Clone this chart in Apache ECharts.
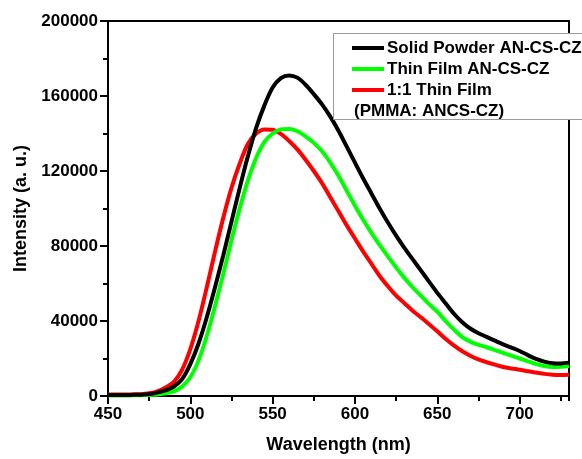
<!DOCTYPE html>
<html>
<head>
<meta charset="utf-8">
<script src="https://cdn.jsdelivr.net/npm/echarts@6/dist/echarts.min.js"></script>
<style>html,body{margin:0;padding:0;background:#fff}#c{width:582px;height:459px}</style>
</head>
<body>
<div id="c"></div>
<script>
var wavelengths = [450,455,460,465,470,475,480,485,490,495,500,505,510,515,520,525,530,535,540,545,550,555,560,565,570,575,580,585,590,595,600,605,610,615,620,625,630,635,640,645,650,655,660,665,670,675,680,685,690,695,700,705,710,715,720,725,730];
var solidPowder = [500,500,500,600,700,1000,1800,3000,5000,9000,17000,28000,42000,58000,75000,93000,111000,128000,143000,155000,164500,169500,171000,169800,166000,161000,155500,149000,141500,133000,124500,116000,108000,100000,92500,85500,79000,73000,67000,61000,55000,49500,44000,39500,36000,33500,31500,29500,27500,25800,24000,21800,19800,18300,17500,17400,17800];
var thinFilm = [300,300,300,350,400,500,800,1500,2500,5000,10000,19000,32000,48000,65000,83000,100000,115000,127000,135500,140000,142200,142400,141200,138500,135000,130500,124500,117500,109500,101500,94000,87000,80500,74500,68500,63000,58000,53500,49000,45000,40000,35500,31500,29000,27300,26000,24500,23000,21500,20000,18500,17000,16000,15500,15600,16000];
var pmmaFilm = [800,800,800,900,1000,1500,2500,4500,7500,14000,25000,40000,58000,77000,95000,111000,124000,134500,140000,142200,142000,139800,136000,131500,126000,120000,113500,106000,98500,91000,84000,77000,70500,64000,58500,53500,49500,45500,42000,38300,34500,30500,27000,24000,21500,19500,18000,16700,15500,14700,14000,13200,12500,11800,11300,11200,11300];
var seriesNames = ['Solid Powder AN-CS-CZ','Thin Film AN-CS-CZ','1:1 Thin Film'];
var seriesNote = '(PMMA: ANCS-CZ)';
var seriesColors = ['#000000','#00ff00','#ff0000'];
var xTitle = 'Wavelength (nm)';
var yTitle = 'Intensity (a. u.)';

function pairs(ys){ return wavelengths.map(function(w,i){ return [w, ys[i]]; }); }
var allData = [solidPowder, thinFilm, pmmaFilm];

var font = 'Liberation Sans, Arial, sans-serif';
var chart = echarts.init(document.getElementById('c'), null, {renderer:'canvas'});
var axisLineStyle = {color:'#000', width:2};

var legendEls = [{
  type:'rect', left:333, top:33, z:100,
  shape:{width:262, height:86},
  style:{fill:'#fff', stroke:'#9a9a9a', lineWidth:1}
}];
var rowsY = [48, 69, 90];
seriesNames.forEach(function(n, i){
  legendEls.push({type:'line', z:101, shape:{x1:352, y1:rowsY[i], x2:384, y2:rowsY[i]}, style:{stroke:seriesColors[i], lineWidth:4}});
  legendEls.push({type:'text', z:101, x:387, y:rowsY[i], style:{text:n, fill:'#000', font:'bold 17px ' + font, verticalAlign:'middle', align:'left'}});
});
legendEls.push({type:'text', z:101, x:354, y:111, style:{text:seriesNote, fill:'#000', font:'bold 17px ' + font, verticalAlign:'middle', align:'left'}});

chart.setOption({
  animation:false,
  backgroundColor:'#fff',
  grid:{left:108, right:13, top:21, bottom:63},
  xAxis:[{
    type:'value', min:450, max:730, interval:50,
    name:xTitle, nameLocation:'middle', nameGap:40,
    nameTextStyle:{fontFamily:font, fontWeight:'bold', fontSize:18, color:'#000'},
    axisLine:{show:true, onZero:false, lineStyle:axisLineStyle},
    axisTick:{show:true, length:8, lineStyle:{color:'#000', width:2}},
    minorTick:{show:false},
    axisLabel:{fontFamily:font, fontWeight:'bold', fontSize:17, color:'#000', margin:10, showMaxLabel:false},
    splitLine:{show:false}
  },{
    type:'value', min:450, max:730, interval:25, position:'bottom',
    axisLine:{show:false, onZero:false},
    axisTick:{show:true, length:5, lineStyle:{color:'#000', width:2}},
    axisLabel:{show:false}, splitLine:{show:false}
  },{
    type:'value', min:450, max:730, position:'top',
    axisLine:{show:true, onZero:false, lineStyle:axisLineStyle},
    axisTick:{show:false}, axisLabel:{show:false}, splitLine:{show:false}
  }],
  yAxis:[{
    type:'value', min:0, max:200000, interval:40000,
    name:yTitle, nameLocation:'middle', nameGap:77,
    nameTextStyle:{fontFamily:font, fontWeight:'bold', fontSize:18, color:'#000'},
    axisLine:{show:true, onZero:false, lineStyle:axisLineStyle},
    axisTick:{show:true, length:8, lineStyle:{color:'#000', width:2}},
    minorTick:{show:true, splitNumber:2, length:5, lineStyle:{color:'#000', width:2}},
    axisLabel:{fontFamily:font, fontWeight:'bold', fontSize:17, color:'#000', margin:10, formatter:function(v){ return String(v); }},
    splitLine:{show:false}
  },{
    type:'value', min:0, max:200000, position:'right',
    axisLine:{show:true, onZero:false, lineStyle:axisLineStyle},
    axisTick:{show:false}, axisLabel:{show:false}, splitLine:{show:false}
  }],
  series: seriesNames.map(function(n, i){
    return {
      name:n, type:'line', xAxisIndex:0, yAxisIndex:0,
      data:pairs(allData[i]), smooth:0.3, showSymbol:false, symbol:'none',
      lineStyle:{color:seriesColors[i], width:4}, z:10 - i
    };
  }),
  graphic: legendEls
});
</script>
</body>
</html>
